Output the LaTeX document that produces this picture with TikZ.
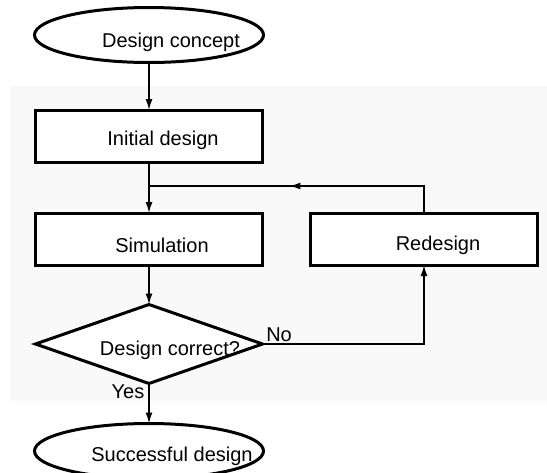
\documentclass[tikz,border=0pt]{standalone}
\usepackage{fontspec}
\setmainfont{Liberation Sans}
\usetikzlibrary{shapes.geometric,arrows.meta,decorations.markings}
\definecolor{panelgray}{HTML}{F9F9F9}
\begin{document}
\begin{tikzpicture}[x=1pt, y=-1pt,
  txt/.style={font=\fontsize{20}{24}\selectfont, inner sep=0pt},
  stepbox/.style={draw, line width=3pt, fill=white, minimum width=227pt, minimum height=52pt, inner sep=0pt, outer sep=0pt},
  terminal/.style={ellipse, draw, line width=3pt, fill=white, minimum width=229pt, minimum height=55pt, inner sep=0pt, outer sep=0pt},
  decision/.style={diamond, draw, line width=3pt, fill=white, minimum width=227pt, minimum height=79pt, inner sep=0pt, outer sep=0pt},
  conn/.style={line width=1.5pt},
  tip/.style={-{Latex[length=11pt,width=7pt]}}]

\useasboundingbox (0,0) rectangle (547,472);
\fill[panelgray] (10,86) rectangle (547,401);

\node[terminal, label={[txt, xshift=22pt, yshift=-7pt]center:Design concept}] (concept) at (149,35) {};
\node[stepbox, label={[txt, xshift=14pt, yshift=-4pt]center:Initial design}] (initial) at (149,136) {};
\node[stepbox, label={[txt, xshift=13pt, yshift=-6pt]center:Simulation}] (simulation) at (149,239) {};
\node[stepbox, label={[txt, xshift=14pt, yshift=-6pt]center:Redesign}] (redesign) at (424,239) {};
\node[decision, label={[txt, xshift=21pt, yshift=-6pt]center:Design correct?}] (check) at (149,344) {};
\node[terminal, label={[txt, xshift=23pt, yshift=-5pt]center:Successful design}] (success) at (149,451) {};

\coordinate (join) at (149,186);

\draw[conn, tip] (concept) -- (initial);
\draw[conn] (initial) -- (join);
\draw[conn, tip] (join) -- (simulation);
\draw[conn, postaction={decorate}, decoration={markings, mark=at position 0.535 with {\arrow{Latex[length=11pt,width=7pt]}}}] (redesign.north) |- (join);
\draw[conn, tip] (simulation) -- (check);
\draw[conn, tip] (check.east) -| node[txt, pos=0, anchor=south west, xshift=3pt, yshift=2pt] {No} (redesign.south);
\draw[conn, tip] (check.south) -- node[txt, pos=0.2, anchor=east, xshift=-4pt] {Yes} (success.north);

\end{tikzpicture}
\end{document}
